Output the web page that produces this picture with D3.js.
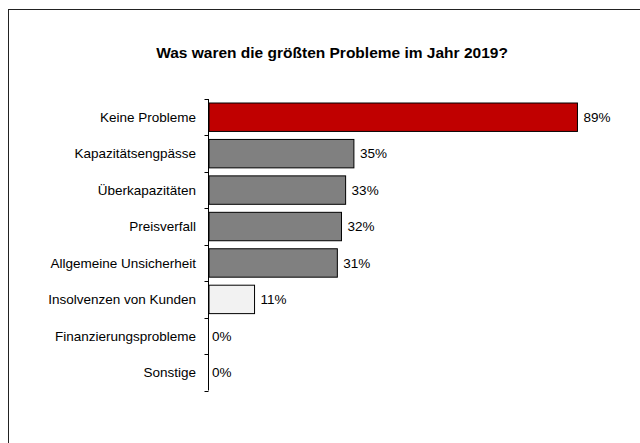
<!DOCTYPE html>
<html>
<head>
<meta charset="utf-8">
<script src="https://cdn.jsdelivr.net/npm/d3@7"></script>
<style>
  html, body { margin: 0; padding: 0; background: #fff; }
  svg { display: block; font-family: Arial, "Liberation Sans", sans-serif; }
</style>
</head>
<body>
<svg id="chart" width="640" height="443"></svg>
<script>
const title = "Was waren die größten Probleme im Jahr 2019?";
const categories = [
  "Keine Probleme",
  "Kapazitätsengpässe",
  "Überkapazitäten",
  "Preisverfall",
  "Allgemeine Unsicherheit",
  "Insolvenzen von Kunden",
  "Finanzierungsprobleme",
  "Sonstige"
];
const values = [89, 35, 33, 32, 31, 11, 0, 0];
const fills = ["#C00000", "#808080", "#808080", "#808080", "#808080", "#F2F2F2", "#808080", "#808080"];

const svg = d3.select("#chart");

// chart frame
svg.append("rect")
  .attr("x", 8.5).attr("y", 9.5)
  .attr("width", 700).attr("height", 500)
  .attr("fill", "none").attr("stroke", "#222").attr("stroke-width", 1);

svg.append("text")
  .attr("x", 332).attr("y", 58)
  .attr("text-anchor", "middle")
  .attr("font-size", 15.5).attr("font-weight", "bold")
  .attr("fill", "#000")
  .text(title);

const x = d3.scaleLinear().domain([0, 100]).range([209, 623]);
const y = d3.scaleBand().domain(categories).range([99, 390.5]).paddingInner(0.22).paddingOuter(0.11);

// category axis with ticks at band boundaries
const axisX = 208.5;
const step = y.step();
const axisTop = y.range()[0];
svg.append("line")
  .attr("x1", axisX).attr("x2", axisX)
  .attr("y1", axisTop).attr("y2", y.range()[1])
  .attr("stroke", "#000");
d3.range(categories.length + 1).forEach(i => {
  const ty = Math.round(axisTop + i * step) + 0.5;
  svg.append("line")
    .attr("x1", axisX - 4).attr("x2", axisX)
    .attr("y1", ty).attr("y2", ty)
    .attr("stroke", "#000");
});

svg.append("g").selectAll("text")
  .data(categories)
  .join("text")
  .attr("x", 196)
  .attr("y", d => axisTop + categories.indexOf(d) * step + step / 2)
  .attr("dy", "0.35em")
  .attr("text-anchor", "end")
  .attr("font-size", 13.5)
  .attr("fill", "#000")
  .text(d => d);

const bars = categories.map((c, i) => ({ c, v: values[i], f: fills[i] }));

svg.append("g").selectAll("rect")
  .data(bars.filter(d => d.v > 0))
  .join("rect")
  .attr("x", x(0))
  .attr("y", d => y(d.c))
  .attr("width", d => x(d.v) - x(0))
  .attr("height", y.bandwidth())
  .attr("fill", d => d.f)
  .attr("stroke", "#000")
  .attr("stroke-width", 1);

svg.append("g").selectAll("text")
  .data(bars)
  .join("text")
  .attr("x", d => x(d.v) + (d.v > 0 ? 6 : 3))
  .attr("y", d => y(d.c) + y.bandwidth() / 2)
  .attr("dy", "0.35em")
  .attr("font-size", 13.5)
  .attr("fill", "#000")
  .text(d => d.v + "%");
</script>
</body>
</html>
